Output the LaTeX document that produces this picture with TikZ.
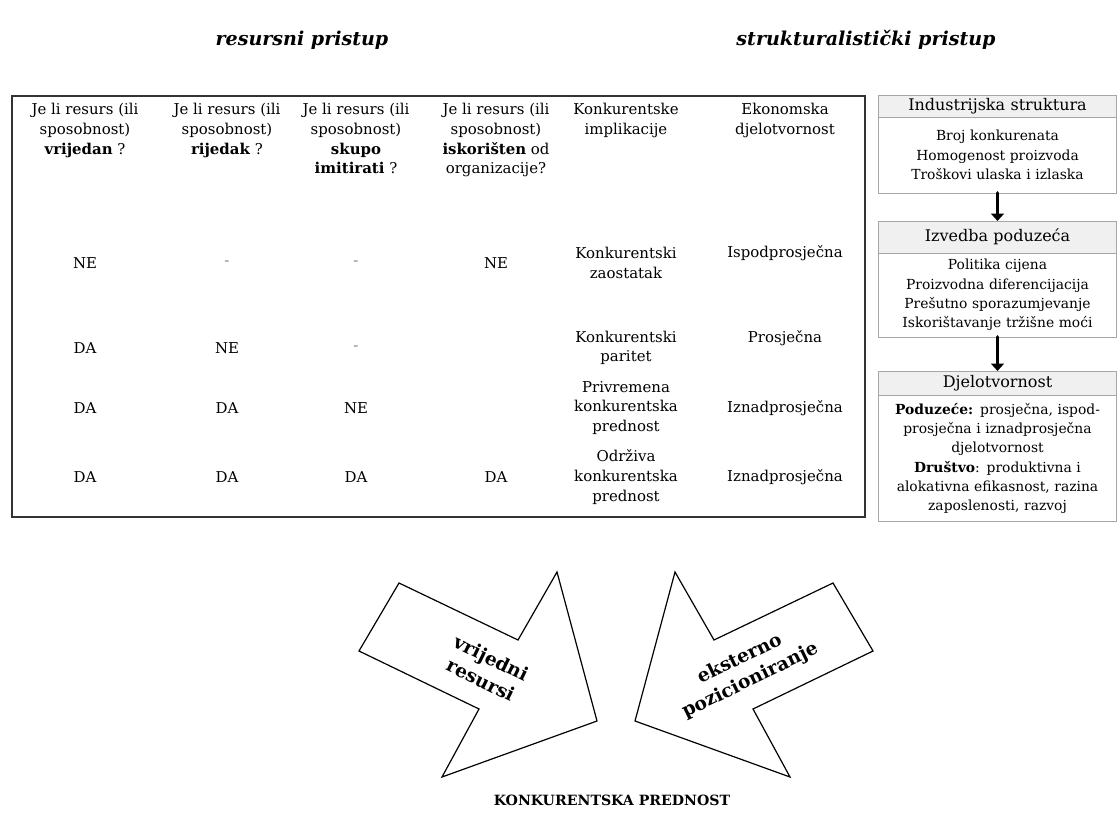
\documentclass[tikz,border=0pt]{standalone}
\usepackage{fontspec}
\setmainfont{DejaVu Serif}
\usetikzlibrary{arrows.meta}
\tikzset{
  cell/.style={align=center,inner sep=0pt,font=\fontsize{11.2}{14.8}\selectfont},
  heading/.style={font=\fontsize{14.3}{16}\bfseries\itshape\selectfont},
  boxhead/.style={draw=gray!70,fill=gray!12,line width=0.6pt,text width=177pt,align=center,
    inner sep=1pt,outer sep=0pt,anchor=north,font=\fontsize{12}{14}\selectfont},
  boxbody/.style={draw=gray!70,line width=0.6pt,text width=177pt,align=center,
    inner sep=1pt,outer sep=0pt,anchor=north,font=\fontsize{10.4}{14.5}\selectfont},
  flow/.style={line width=2.8pt,-{Triangle[length=5.5pt,width=9.5pt]}},
  bigarrow/.style={draw,line width=0.9pt,line join=miter},
  arrowtxt/.style={align=center,font=\fontsize{14}{18}\bfseries\selectfont},
}
\newcommand{\crtica}{\textcolor{gray}{-}}
\begin{document}
\begin{tikzpicture}[x=0.75pt,y=-0.75pt,line cap=round]
	\useasboundingbox (0,0) rectangle (1119,827);
	
	\node[heading] (res) at (302,40) {resursni pristup};
	\node[heading] (str) at (866,40) {strukturalistički pristup};
	
	% tablica
	\draw[line width=1pt,draw=black!80] (12,96) rectangle (865,517);
	
	\node[cell,anchor=north] (h1) at (85,103) {Je li resurs (ili\\sposobnost)\\\textbf{vrijedan} ?};
	\node[cell,anchor=north] (h2) at (227,103) {Je li resurs (ili\\sposobnost)\\\textbf{rijedak} ?};
	\node[cell,anchor=north] (h3) at (356,103) {Je li resurs (ili\\sposobnost)\\\textbf{skupo}\\\textbf{imitirati} ?};
	\node[cell,anchor=north] (h4) at (496,103) {Je li resurs (ili\\sposobnost)\\\textbf{iskorišten} od\\organizacije?};
	\node[cell,anchor=north] (h5) at (626,103) {Konkurentske\\implikacije};
	\node[cell,anchor=north] (h6) at (785,103) {Ekonomska\\djelotvornost};
	
	\foreach \v/\x [count=\i] in {NE/85,\crtica/227,\crtica/356,NE/496}
	\node[cell] (ra\i) at (\x,263) {\v};
	\foreach \v/\x [count=\i] in {DA/85,NE/227,\crtica/356}
	\node[cell] (rb\i) at (\x,348) {\v};
	\foreach \v/\x [count=\i] in {DA/85,DA/227,NE/356}
	\node[cell] (rc\i) at (\x,408) {\v};
	\foreach \v/\x [count=\i] in {DA/85,DA/227,DA/356,DA/496}
	\node[cell] (rd\i) at (\x,477) {\v};
	
	\node[cell] (rak) at (626,263) {Konkurentski\\zaostatak};
	\node[cell] (rae) at (785,253) {Ispodprosječna};
	\node[cell] (rbk) at (626,348) {Konkurentski\\paritet};
	\node[cell] (rbe) at (785,338) {Prosječna};
	\node[cell] (rck) at (626,408) {Privremena\\konkurentska\\prednost};
	\node[cell] (rce) at (785,408) {Iznadprosječna};
	\node[cell] (rdk) at (626,477) {Održiva\\konkurentska\\prednost};
	\node[cell] (rde) at (785,477) {Iznadprosječna};
	
	% desni stupac
	\node[boxhead,minimum height=16.5pt] (ind) at (997.5,95) {Industrijska struktura};
	\node[boxbody,minimum height=57pt] (indb) at (ind.south) {Broj konkurenata\\Homogenost proizvoda\\Troškovi ulaska i izlaska};
	\node[boxhead,minimum height=24pt] (izv) at (997.5,221) {Izvedba poduzeća};
	\node[boxbody,minimum height=63pt] (izvb) at (izv.south) {Politika cijena\\Proizvodna diferencijacija\\Prešutno sporazumjevanje\\Iskorištavanje tržišne moći};
	\node[boxhead,minimum height=18pt] (dje) at (997.5,371) {Djelotvornost};
	\node[boxbody,minimum height=95pt] (djeb) at (dje.south) {\textbf{Poduzeće:} prosječna, ispod-\\prosječna i iznadprosječna\\djelotvornost\\\textbf{Društvo}: produktivna i\\alokativna efikasnost, razina\\zaposlenosti, razvoj};
	
	\draw[flow] (indb.south) -- (izv.north);
	\draw[flow] (izvb.south) -- (dje.north);
	
	% velike strelice
	\draw[bigarrow] (399,583) -- (518,640) -- (557,572) -- (597,721) -- (442,777) -- (479,709) -- (359,651) -- cycle;
	\draw[bigarrow] (833,583) -- (714,640) -- (675,572) -- (635,721) -- (790,777) -- (753,709) -- (873,651) -- cycle;
	\node[arrowtxt,rotate=-26] (vr) at (486,669) {vrijedni\\resursi};
	\node[arrowtxt,rotate=26] (ek) at (745,670) {eksterno\\pozicioniranje};
	
	\node[font=\fontsize{10.6}{13}\bfseries\selectfont] (kp) at (612,800) {KONKURENTSKA PREDNOST};
\end{tikzpicture}
\end{document}
